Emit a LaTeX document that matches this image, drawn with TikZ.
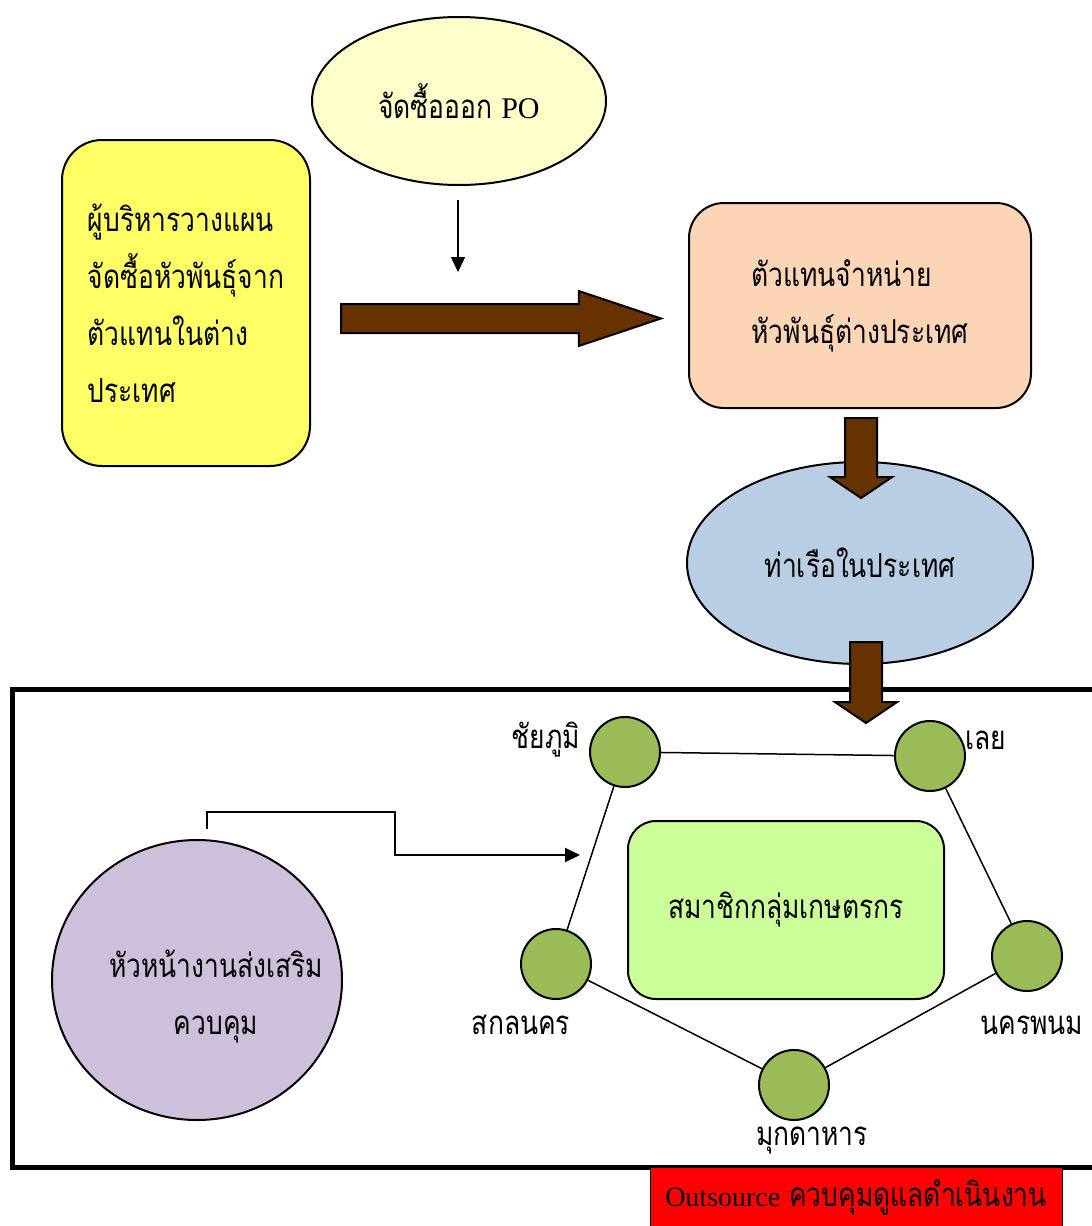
\documentclass[tikz,border=0pt]{standalone}
\usepackage{fontspec}
\setmainfont{Liberation Serif}
\newfontfamily\thaifont[Script=Thai,FakeStretch=0.8]{Loma}
\usetikzlibrary{shapes.geometric,shapes.arrows,arrows.meta}
\definecolor{planyellow}{HTML}{FFFF66}
\definecolor{poyellow}{HTML}{FFFFCC}
\definecolor{agentpeach}{HTML}{FBD5B5}
\definecolor{portblue}{HTML}{B9CDE5}
\definecolor{provgreen}{HTML}{9BBB59}
\definecolor{membergreen}{HTML}{CCFF99}
\definecolor{headlilac}{HTML}{CCC0DA}
\definecolor{flowbrown}{HTML}{663300}
\begin{document}
\begin{tikzpicture}[x=1pt,y=-1pt,line width=2pt,
	font=\thaifont\fontsize{33}{57}\selectfont,
	box/.style={draw,rounded corners=40pt,align=left},
	oval/.style={draw,ellipse,inner sep=0pt},
	prov/.style={draw,circle,fill=provgreen,minimum size=70pt,inner sep=0pt},
	bigarrow/.style={draw,single arrow,fill=flowbrown,inner xsep=0pt,anchor=tail}]
	\useasboundingbox(0,0)rectangle(1092,1226);
	\node(po)[oval,fill=poyellow,minimum width=294pt,minimum height=168pt]at(459,101){จัดซื้อออก {\rmfamily\fontsize{30}{30}\selectfont PO}};
	\node(plan)[box,fill=planyellow,minimum width=248pt,minimum height=326pt]at(186,303){ผู้บริหารวางแผน\\จัดซื้อหัวพันธุ์จาก\\ตัวแทนในต่าง\\ประเทศ};
	\node(agent)[box,fill=agentpeach,rounded corners=35pt,minimum width=342pt,minimum height=205pt]at(860,305.5){ตัวแทนจำหน่าย\\หัวพันธุ์ต่างประเทศ};
	\node(port)[oval,fill=portblue,minimum width=346pt,minimum height=202pt]at(860,563){ท่าเรือในประเทศ};
	\draw[line width=5pt](12,689)rectangle(1120,1167);
	\node(outsrc)[draw,fill=red,line width=1pt,minimum width=412pt,minimum height=61pt]at(856,1197.5){{\rmfamily\fontsize{28}{30}\selectfont Outsource} ควบคุมดูแลดำเนินงาน};
	% provinces
	\node(chai)[prov]at(625,752){};
	\node(loei)[prov]at(930,756){};
	\node(sakon)[prov]at(556,964){};
	\node(nakhon)[prov]at(1027,956){};
	\node(mukda)[prov]at(794,1085){};
	\node(chail)at(546,740){ชัยภูมิ};
	\node(loeil)at(986,740){เลย};
	\node(sakonl)at(521,1025){สกลนคร};
	\node(nakhonl)at(1032,1025){นครพนม};
	\node(mukdal)at(812,1141){มุกดาหาร};
	\node(member)[box,fill=membergreen,rounded corners=28pt,minimum width=316pt,minimum height=178pt]at(786,910){สมาชิกกลุ่มเกษตรกร};
	\node(head)[oval,fill=headlilac,minimum width=290pt,minimum height=280pt]at(197,980){};
	\node(headl)[align=center]at(216,997){หัวหน้างานส่งเสริม\\ควบคุม};
	\draw[line width=1.5pt](chai)--(loei);
	\draw[line width=1.5pt](chai)--(sakon);
	\draw[line width=1.5pt](loei)--(nakhon);
	\draw[line width=1.5pt](sakon)--(mukda);
	\draw[line width=1.5pt](mukda)--(nakhon);
	% thin arrows
	\tikzset{every path/.style={-{Triangle[length=15pt,width=14pt]}}}
	\coordinate(t0)at(458,200);
	\coordinate(t1)at(458,272);
	\draw[line width=1.5pt](t0)--(t1);
	\coordinate(e0)at(207,829);
	\coordinate(e1)at(395,812);
	\coordinate(e2)at(580,855);
	\draw(e0)|-(e1)|-(e2);
	% big arrows
	\node(toagent)[bigarrow,minimum height=320pt,inner ysep=13.5pt,single arrow head extend=13pt,single arrow tip angle=37]at(340,318.5){};
	\node(toport)[bigarrow,rotate=-90,minimum height=80pt,inner ysep=15pt,single arrow head extend=15pt,single arrow tip angle=112]at(861,417){};
	\node(tofarm)[bigarrow,rotate=-90,minimum height=81pt,inner ysep=15pt,single arrow head extend=15pt,single arrow tip angle=112]at(866,641){};
\end{tikzpicture}
\end{document}
